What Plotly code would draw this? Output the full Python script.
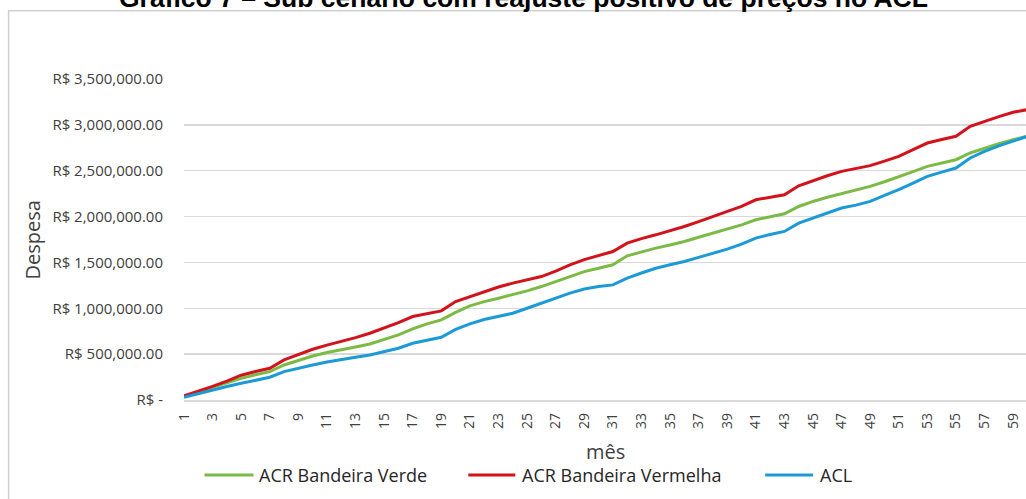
import plotly.graph_objects as go

# ---------------- data ----------------
months = list(range(1, 61))

acr_verde = [40, 88, 135, 185, 236, 275, 309, 382, 432, 480,
             518, 546, 578, 611, 660, 710, 775, 830, 873, 955,
             1026, 1073, 1110, 1146, 1190, 1237, 1290, 1346, 1400, 1437,
             1474, 1572, 1615, 1656, 1690, 1728, 1775, 1820, 1862, 1910,
             1965, 1998, 2031, 2110, 2165, 2210, 2249, 2290, 2329, 2380,
             2431, 2490, 2547, 2585, 2620, 2693, 2748, 2795, 2838, 2875]
acr_verde = [v * 1000 for v in acr_verde]

acr_vermelha = [45, 95, 148, 205, 270, 310, 346, 437, 495, 553,
                598, 637, 680, 728, 785, 844, 910, 940, 972, 1073,
                1128, 1182, 1232, 1274, 1310, 1346, 1405, 1474, 1530, 1572,
                1619, 1710, 1760, 1801, 1846, 1892, 1945, 2001, 2050, 2110,
                2183, 2210, 2238, 2336, 2394, 2445, 2493, 2525, 2555, 2605,
                2656, 2730, 2802, 2840, 2875, 2984, 3038, 3090, 3137, 3166]
acr_vermelha = [v * 1000 for v in acr_vermelha]

acl = [30, 72, 112, 148, 182, 215, 248, 309, 348, 382,
       415, 437, 465, 491, 528, 564, 619, 655, 684, 770,
       830, 878, 915, 946, 1000, 1055, 1108, 1165, 1210, 1237,
       1255, 1328, 1385, 1437, 1475, 1510, 1555, 1601, 1645, 1700,
       1765, 1805, 1838, 1929, 1984, 2040, 2093, 2125, 2165, 2230,
       2293, 2365, 2438, 2485, 2529, 2639, 2711, 2770, 2820, 2875]
acl = [v * 1000 for v in acl]

series_names = ["ACR Bandeira Verde", "ACR Bandeira Vermelha", "ACL"]
series_colors = ["#7bbb45", "#d2131b", "#1b9ad6"]

y_tick_vals = [0, 500000, 1000000, 1500000, 2000000, 2500000, 3000000, 3500000]
y_tick_text = ["R$ -", "R$ 500,000.00", "R$ 1,000,000.00", "R$ 1,500,000.00",
               "R$ 2,000,000.00", "R$ 2,500,000.00", "R$ 3,000,000.00",
               "R$ 3,500,000.00"]
x_tick_vals = list(range(1, 61, 2))

title_text = "Gráfico 7 – Sub cenário com reajuste positivo de preços no ACL"
y_title = "Despesa"
x_title = "mês"

# ---------------- layout geometry (pixels) ----------------
W, H = 1026, 499
L, R, T, B = 183.5, 0, 79.3, 99
PW = W - L - R
PH = H - T - B


def px_x(p):
    return (p - L) / PW


def px_y(p):
    return (H - B - p) / PH


fig = go.Figure()
for name, vals, col in zip(series_names, [acr_verde, acr_vermelha, acl], series_colors):
    fig.add_trace(go.Scatter(x=months, y=vals, mode="lines", name=name,
                             line=dict(color=col, width=3), showlegend=False))

axis_font = dict(family="Open Sans", size=14, color="#404040")

fig.update_layout(
    width=W, height=H, autosize=False,
    margin=dict(l=L, r=R, t=T, b=B, pad=0),
    paper_bgcolor="white", plot_bgcolor="white",
    hovermode=False,
    xaxis=dict(range=[1, 59.9], tickvals=x_tick_vals, tickangle=-90,
               tickfont=axis_font, showgrid=False, zeroline=False,
               showline=True, linecolor="#d9d9d9", linewidth=1.5,
               ticks="outside", ticklen=6, tickcolor="rgba(0,0,0,0)",
               automargin=False),
    yaxis=dict(range=[0, 3500000], tickvals=y_tick_vals, ticktext=y_tick_text,
               tickfont=dict(family="Open Sans", size=15, color="#404040"),
               showgrid=True, gridcolor="#d9d9d9", gridwidth=1.5,
               zeroline=False, showline=False,
               ticks="outside", ticklen=17, tickcolor="rgba(0,0,0,0)",
               automargin=False),
)

annotations = []
# title (partially clipped at top as in the reference)
annotations.append(dict(text="<b>" + title_text + "</b>", x=px_x(523.5), y=px_y(15.3),
                        xref="paper", yref="paper", xanchor="center", yanchor="bottom",
                        showarrow=False,
                        font=dict(family="Liberation Sans", size=26.5, color="#000000")))
# axis titles
annotations.append(dict(text=y_title, x=px_x(32), y=px_y(240), xref="paper", yref="paper",
                        xanchor="center", yanchor="middle", textangle=-90, showarrow=False,
                        font=dict(family="Open Sans", size=20, color="#404040")))
annotations.append(dict(text=x_title, x=px_x(605), y=px_y(451), xref="paper", yref="paper",
                        xanchor="center", yanchor="middle", showarrow=False,
                        font=dict(family="Open Sans", size=20, color="#404040")))

shapes = []
# chart border (extends beyond the right / bottom of the picture)
shapes.append(dict(type="rect", xref="paper", yref="paper",
                   x0=px_x(8), x1=px_x(1040), y0=px_y(11), y1=px_y(515),
                   line=dict(color="#d0d0d0", width=1.5), fillcolor="rgba(0,0,0,0)",
                   layer="below"))

# manual legend
leg_line_x = [(204, 253), (468, 515), (765, 813)]
leg_text_x = [257, 520, 818]
leg_y = 475
for name, col, (a, b), tx in zip(series_names, series_colors, leg_line_x, leg_text_x):
    shapes.append(dict(type="line", xref="paper", yref="paper",
                       x0=px_x(a), x1=px_x(b), y0=px_y(leg_y), y1=px_y(leg_y),
                       line=dict(color=col, width=3)))
    annotations.append(dict(text=name, x=px_x(tx), y=px_y(leg_y), xref="paper", yref="paper",
                            xanchor="left", yanchor="middle", showarrow=False,
                            font=dict(family="Open Sans", size=18, color="#262626")))

fig.update_layout(annotations=annotations, shapes=shapes)

fig.write_html("out.html",
               config={"displayModeBar": False, "staticPlot": True},
               post_script="document.body.style.margin='0';document.body.style.overflow='hidden';")
